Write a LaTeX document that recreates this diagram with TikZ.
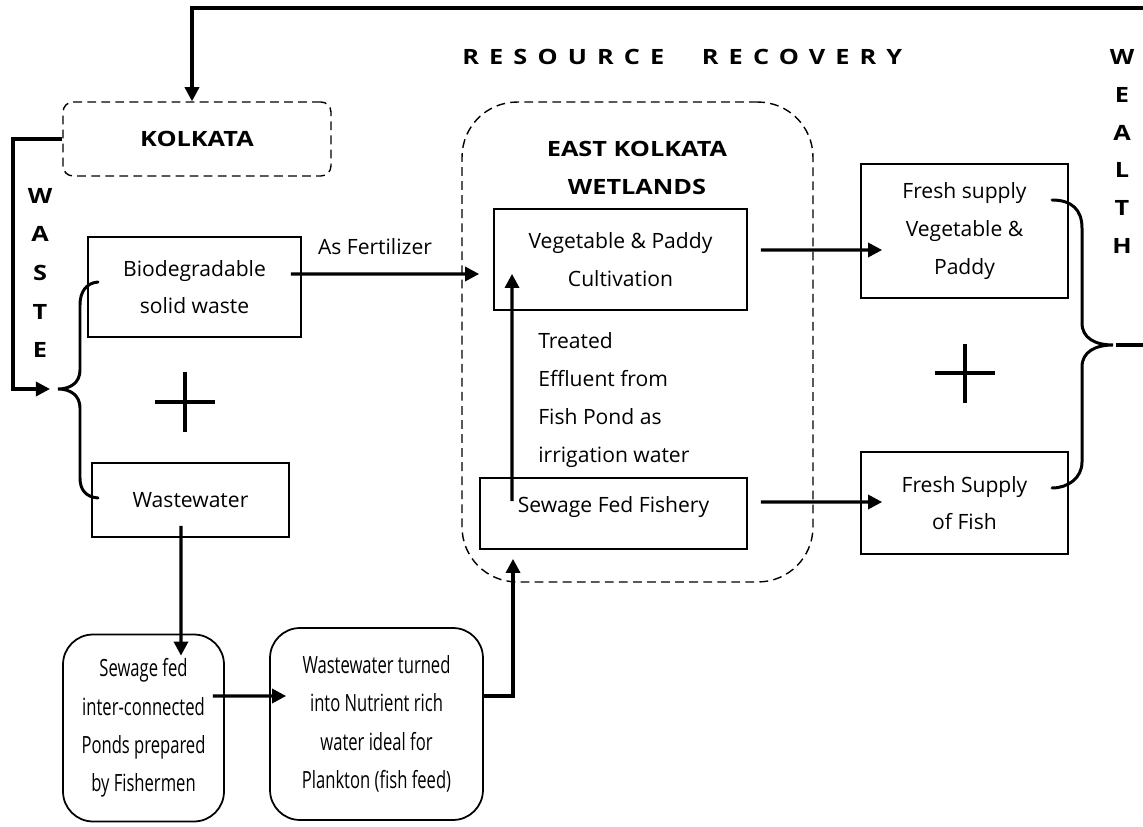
\documentclass[tikz,border=0pt]{standalone}
\usepackage{fontspec}
\setmainfont{Open Sans}
\usetikzlibrary{arrows.meta}
\begin{document}
\begin{tikzpicture}[x=0.02cm, y=-0.02cm,
    font=\fontsize{12}{21.5}\selectfont,
    box/.style={draw, line width=1pt, align=center, inner sep=0pt},
    rbox/.style={box, rounded corners=0.6cm, font=\fontsize{13.5}{21.8}\selectfont\addfontfeature{FakeStretch=0.7}},
    dbox/.style={draw, dash pattern=on 5pt off 3pt, line width=0.8pt, inner sep=0pt},
    conn/.style={-{Triangle[length=8pt,width=8pt]}, line width=1.8pt},
    brace/.style={line width=1.7pt, line cap=round},
    plussign/.style={line width=2.6pt},
    title/.style={font=\fontsize{12}{22}\selectfont\bfseries\addfontfeature{FakeStretch=1.2}, align=center}]
    \useasboundingbox (0,0) rectangle (1143,827);

    \node[dbox, rounded corners=0.2cm, minimum width=5.36cm, minimum height=1.48cm, title] (kolkata) at (197,139) {KOLKATA};
    \node[dbox, rounded corners=1.1cm, minimum width=7.02cm, minimum height=9.6cm] (ekw) at (637.5,342) {};
    \node[title] (ekwtitle) at (637,168) {EAST KOLKATA\\WETLANDS};
    \node[title, anchor=west, inner sep=0pt] (rr) at (462,57) {\addfontfeature{LetterSpace=48}RESOURCE\hspace{0.42cm} RECOVERY};
    \node[title] (waste) at (40,273) {W\\A\\S\\T\\E};
    \node[title, font=\fontsize{12}{21.6}\selectfont\bfseries\addfontfeature{FakeStretch=1.2}] (wealth) at (1122,151.5) {W\\E\\A\\L\\T\\H};

    \node[box, minimum width=4.26cm, minimum height=2cm] (bio) at (194.5,287) {Biodegradable\\solid waste};
    \node[box, minimum width=3.94cm, minimum height=1.48cm] (ww) at (190.5,500) {Wastewater};
    \node[rbox, minimum width=3.22cm, minimum height=3.74cm] (ponds) at (143.5,728) {Sewage fed\\inter-connected\\Ponds prepared\\by Fishermen};
    \node[rbox, minimum width=4.26cm, minimum height=3.84cm] (nutrient) at (376.5,724) {Wastewater turned\\into Nutrient rich\\water ideal for\\Plankton (fish feed)};
    \node[box, minimum width=5.06cm, minimum height=2.02cm] (veg) at (620.5,259.5) {Vegetable \& Paddy\\Cultivation};
    \node[box, minimum width=5.34cm, minimum height=1.42cm, text depth=0.38cm] (fishery) at (613.5,513.5) {Sewage Fed Fishery};
    \node[box, minimum width=4.14cm, minimum height=2.68cm] (freshveg) at (964.5,231) {Fresh supply\\Vegetable \&\\Paddy};
    \node[box, minimum width=4.14cm, minimum height=2.04cm] (freshfish) at (964.5,503) {Fresh Supply\\of Fish};
    \node[anchor=west, align=left, inner sep=0pt] (treated) at (538,400) {Treated\\Effluent from\\Fish Pond as\\irrigation water};
    \node (fert) at (375,247) {As Fertilizer};

    \coordinate (topend) at (1143,8);
    \coordinate (wbend) at (13,139);
    \coordinate (ltip) at (58,389);
    \coordinate (rtip) at (1113,345);
    \coordinate (redge) at (1143,345);

    \draw[conn] (topend) -| ([xshift=-0.1cm]kolkata.north);
    \draw[conn] (kolkata.west) -- (wbend) |- ([xshift=-0.16cm]ltip);
    \draw[brace] (98,282) .. controls (86,283) and (80,292) .. (80,305) -- (80,370)
        .. controls (80,383) and (70,389) .. (ltip)
        .. controls (70,389) and (80,395) .. (80,408) -- (80,478)
        .. controls (80,490) and (86,497) .. (98,498);
    \draw[brace] (1052,200) .. controls (1072,200) and (1082,210) .. (1082,228) -- (1082,323)
        .. controls (1082,338) and (1095,345) .. (rtip)
        .. controls (1095,345) and (1082,352) .. (1082,367) -- (1082,462)
        .. controls (1082,478) and (1068,488) .. (1052,488);
    \draw[line width=1.8pt] ([xshift=0.06cm]rtip) -- (redge);

    \draw[conn] ([shift={(-0.22cm,0.26cm)}]bio.east) -- ([shift={(-0.28cm,-0.29cm)}]veg.west);
    \draw[conn] ([shift={(-0.19cm,0.24cm)}]ww.south) -- ([shift={(0.75cm,-0.44cm)}]ponds.north);
    \draw[conn] ([shift={(-0.24cm,0.64cm)}]ponds.east) -- ([shift={(0.34cm,0.56cm)}]nutrient.west);
    \draw[conn] ([yshift=0.56cm]nutrient.east) -| ([shift={(-2.01cm,-0.18cm)}]fishery.south);
    \draw[conn] ([shift={(-2.03cm,-0.48cm)}]fishery.north) -- ([shift={(-2.17cm,0.74cm)}]veg.south);
    \draw[conn] ([shift={(0.26cm,0.19cm)}]veg.east) -- ([shift={(0.44cm,-0.38cm)}]freshveg.west);
    \draw[conn] ([shift={(0.26cm,0.23cm)}]fishery.east) -- ([shift={(0.44cm,0.02cm)}]freshfish.west);

    \draw[plussign] (155,402) -- (215,402) (185,372) -- (185,432);
    \draw[plussign] (935,373) -- (995,373) (965,344) -- (965,403);
\end{tikzpicture}
\end{document}
